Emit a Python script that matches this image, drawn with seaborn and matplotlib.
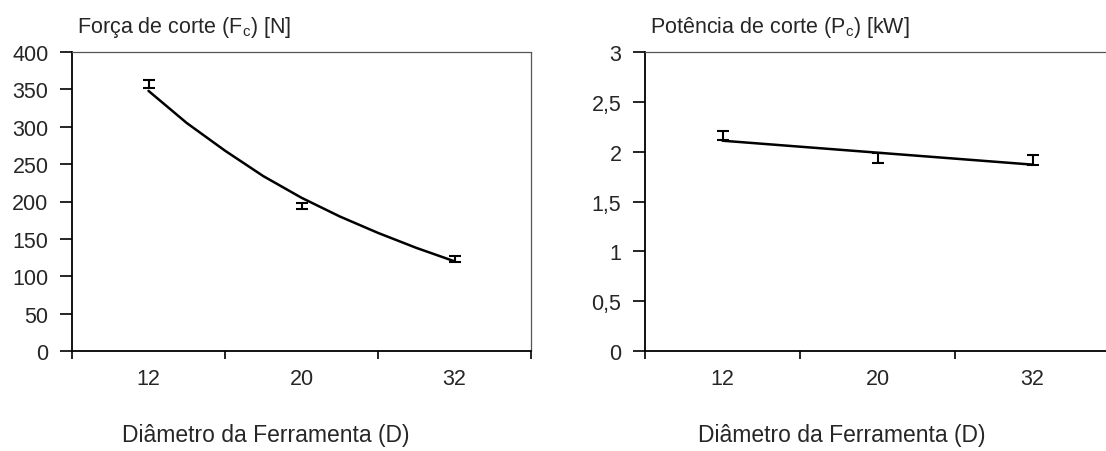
import numpy as np
import pandas as pd
import matplotlib
matplotlib.use("Agg")
import matplotlib.pyplot as plt
import seaborn as sns

# data
diametros = ["12", "20", "32"]
forca_media = [357, 194, 123]
forca_erro = [5, 4, 4]
potencia_media = [2.16, 1.94, 1.92]
potencia_erro = [0.045, 0.05, 0.05]

# trend lines (x in category units)
forca_trend_x = [0, 0.25, 0.5, 0.75, 1.0, 1.25, 1.5, 1.75, 2.0]
forca_trend_y = [348, 305, 268, 234, 205, 180, 158, 138, 120]
potencia_trend_x = [0, 1, 2]
potencia_trend_y = [2.11, 1.99, 1.87]

y_forca_ticks = [0, 50, 100, 150, 200, 250, 300, 350, 400]
y_potencia_ticks = [0, 0.5, 1, 1.5, 2, 2.5, 3]
y_potencia_labels = ["0", "0,5", "1", "1,5", "2", "2,5", "3"]

sns.set_style("white")
plt.rcParams["font.family"] = ["Liberation Sans", "DejaVu Sans"]

W, H = 1106, 452
fig = plt.figure(figsize=(W / 100, H / 100), dpi=100)

ax1 = fig.add_axes([72 / W, 1 - 352 / H, 459 / W, 299 / H])
ax2 = fig.add_axes([645 / W, 1 - 352 / H, 465 / W, 299 / H])


def style_axis(ax, title):
    for side in ["left", "bottom"]:
        ax.spines[side].set_color("black")
        ax.spines[side].set_linewidth(1.3)
    for side in ["top", "right"]:
        ax.spines[side].set_visible(True)
        ax.spines[side].set_color("#555555")
        ax.spines[side].set_linewidth(0.9)
        ax.spines[side].set_linestyle((0, (2, 1)))
    ax.set_xlim(-0.5, 2.5)
    ax.set_xticks([0, 1, 2])
    ax.set_xticklabels(diametros)
    ax.set_xticks([-0.5, 0.5, 1.5, 2.5], minor=True)
    ax.tick_params(axis="x", which="major", bottom=True, length=0, pad=12, labelsize=15.5)
    ax.tick_params(axis="x", which="minor", bottom=True, length=6, width=1.2,
                   direction="out", color="black")
    ax.tick_params(axis="y", left=True, length=9, width=1.2, direction="out",
                   color="black", pad=8, labelsize=15.5)
    ax.set_xlabel("")
    ax.set_ylabel("")
    ax.text(0.011, 1.085, title, transform=ax.transAxes, ha="left", va="center", fontsize=15.5)
    ax.text(0.423, -0.28, "Diâmetro da Ferramenta (D)", transform=ax.transAxes,
            ha="center", va="center", fontsize=16.5)


pos = np.arange(len(diametros))

# left: cutting force
sns.lineplot(x=forca_trend_x, y=forca_trend_y, ax=ax1, color="black", linewidth=1.8)
ax1.errorbar(pos, forca_media, yerr=forca_erro, fmt="none", ecolor="black",
             elinewidth=1.5, capsize=4.5, capthick=1.5)
ax1.set_ylim(0, 400)
ax1.set_yticks(y_forca_ticks)
style_axis(ax1, "Força de corte (F$_\\mathregular{c}$) [N]")

# right: cutting power
sns.lineplot(x=potencia_trend_x, y=potencia_trend_y, ax=ax2, color="black", linewidth=1.8)
ax2.errorbar(pos, potencia_media, yerr=potencia_erro, fmt="none", ecolor="black",
             elinewidth=1.5, capsize=4.5, capthick=1.5)
ax2.set_ylim(0, 3)
ax2.set_yticks(y_potencia_ticks)
ax2.set_yticklabels(y_potencia_labels)
style_axis(ax2, "Potência de corte (P$_\\mathregular{c}$) [kW]")

fig.savefig("out.png", dpi=100)
